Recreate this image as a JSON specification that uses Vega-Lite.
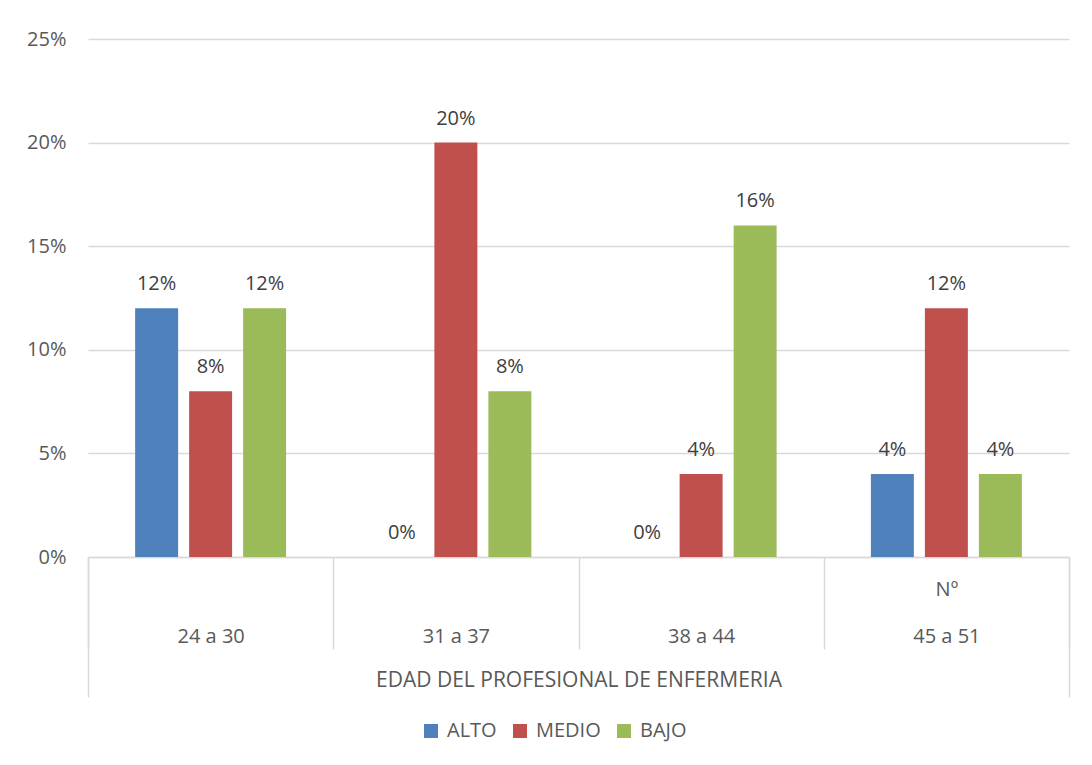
{
  "$schema": "https://vega.github.io/schema/vega-lite/v6.json",
  "width": 981,
  "height": 518,
  "autosize": "none",
  "padding": {"left": 88, "top": 39, "right": 23, "bottom": 208},
  "background": "white",
  "config": {
    "view": {"stroke": null},
    "font": "Open Sans"
  },
  "data": {
    "values": [
      {"edad": "24 a 30", "nivel": "ALTO", "pct": 0.12},
      {"edad": "24 a 30", "nivel": "MEDIO", "pct": 0.08},
      {"edad": "24 a 30", "nivel": "BAJO", "pct": 0.12},
      {"edad": "31 a 37", "nivel": "ALTO", "pct": 0.0},
      {"edad": "31 a 37", "nivel": "MEDIO", "pct": 0.20},
      {"edad": "31 a 37", "nivel": "BAJO", "pct": 0.08},
      {"edad": "38 a 44", "nivel": "ALTO", "pct": 0.0},
      {"edad": "38 a 44", "nivel": "MEDIO", "pct": 0.04},
      {"edad": "38 a 44", "nivel": "BAJO", "pct": 0.16},
      {"edad": "45 a 51", "nivel": "ALTO", "pct": 0.04},
      {"edad": "45 a 51", "nivel": "MEDIO", "pct": 0.12},
      {"edad": "45 a 51", "nivel": "BAJO", "pct": 0.04}
    ]
  },
  "encoding": {
    "x": {
      "field": "edad",
      "type": "nominal",
      "sort": null,
      "scale": {"paddingInner": 0, "paddingOuter": 0},
      "axis": {
        "orient": "bottom",
        "title": "EDAD DEL PROFESIONAL DE ENFERMERIA",
        "titleFont": "Open Sans",
        "titleFontSize": 21,
        "titleFontWeight": "normal",
        "titleColor": "#595959",
        "titlePadding": 20,
        "domain": true,
        "domainColor": "#D9D9D9",
        "domainWidth": 1.5,
        "ticks": true,
        "tickBand": "extent",
        "tickSize": 92,
        "tickColor": "#D9D9D9",
        "tickWidth": 1.5,
        "labelAngle": 0,
        "labelFont": "Open Sans",
        "labelFontSize": 20,
        "labelColor": "#595959",
        "labelBaseline": "bottom",
        "labelLineHeight": 47,
        "labelPadding": {"condition": {"test": "datum.value === '45 a 51'", "value": -50}, "value": -3},
        "labelExpr": "datum.value === '45 a 51' ? ['Nº', datum.value] : datum.value"
      }
    },
    "xOffset": {
      "field": "nivel",
      "type": "nominal",
      "sort": ["ALTO", "MEDIO", "BAJO"],
      "scale": {"paddingInner": 0.204, "paddingOuter": 0.873}
    },
    "y": {
      "field": "pct",
      "type": "quantitative",
      "scale": {"domain": [0, 0.25]},
      "axis": {
        "title": null,
        "values": [0, 0.05, 0.1, 0.15, 0.2, 0.25],
        "format": ".0%",
        "domain": false,
        "ticks": false,
        "labelPadding": 22,
        "labelFont": "Open Sans",
        "labelFontSize": 20,
        "labelColor": "#595959",
        "gridColor": "#D9D9D9",
        "gridWidth": 1.5
      }
    }
  },
  "layer": [
    {
      "mark": {"type": "bar"},
      "encoding": {
        "color": {
          "field": "nivel",
          "type": "nominal",
          "sort": ["ALTO", "MEDIO", "BAJO"],
          "scale": {"domain": ["ALTO", "MEDIO", "BAJO"], "range": ["#4F81BD", "#C0504D", "#9BBB59"]},
          "legend": {
            "title": null,
            "orient": "none",
            "legendX": 333,
            "legendY": 682,
            "direction": "horizontal",
            "symbolType": "square",
            "symbolSize": 196,
            "symbolStrokeWidth": 0,
            "symbolOpacity": 1,
            "labelFont": "Open Sans",
            "labelFontSize": 20,
            "labelColor": "#595959",
            "labelOffset": 6,
            "columnPadding": 13
          }
        }
      }
    },
    {
      "mark": {"type": "text", "baseline": "alphabetic", "dy": -18, "fontSize": 20, "color": "#404040", "font": "Open Sans"},
      "encoding": {
        "x": {"field": "edad", "type": "nominal", "sort": null, "axis": null},
        "text": {"field": "pct", "type": "quantitative", "format": ".0%"}
      }
    },
    {
      "mark": {"type": "rule", "opacity": 0},
      "encoding": {
        "x": {
          "field": "edad",
          "type": "nominal",
          "sort": null,
          "axis": {
            "orient": "bottom",
            "title": null,
            "labels": false,
            "domain": false,
            "ticks": true,
            "tickBand": "extent",
            "tickSize": 140,
            "tickColor": "#D9D9D9",
            "tickWidth": 1.5,
            "tickOpacity": {"condition": {"test": "datum.index < 0 || datum.index >= 1", "value": 1}, "value": 0}
          }
        }
      }
    }
  ],
  "resolve": {"axis": {"x": "independent"}}
}
